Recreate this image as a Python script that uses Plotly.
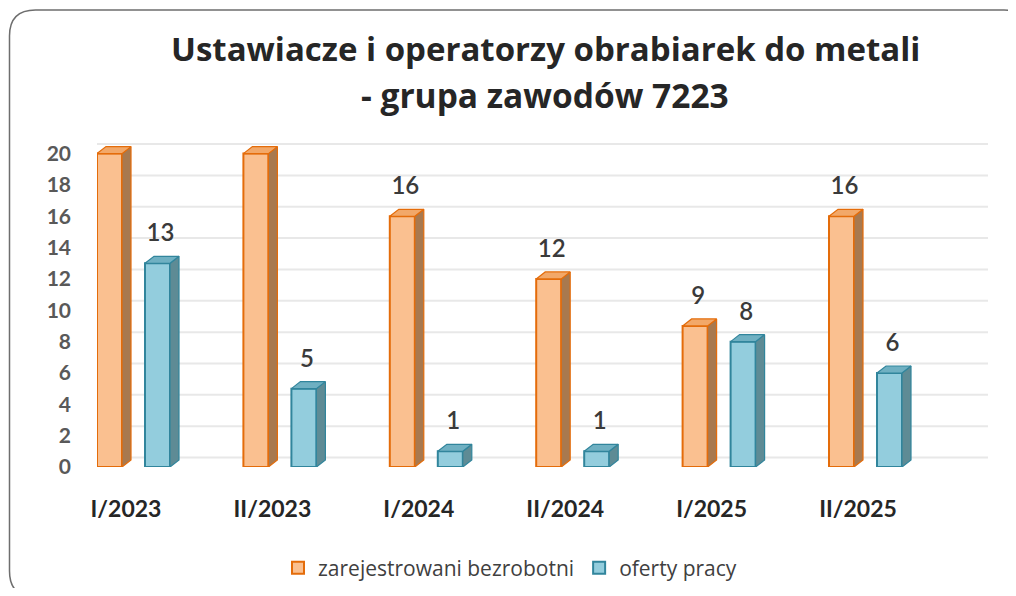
import plotly.graph_objects as go

# ---------------- data ----------------
categories = ["I/2023", "II/2023", "I/2024", "II/2024", "I/2025", "II/2025"]
unemployed = [20, 20, 16, 12, 9, 16]
offers = [13, 5, 1, 1, 8, 6]
series_names = ["zarejestrowani bezrobotni", "oferty pracy"]
y_ticks = list(range(0, 21, 2))
title_line1 = "Ustawiacze i operatorzy obrabiarek do metali"
title_line2 = "- grupa zawodów 7223"

# ---------------- geometry (pixels, in page coordinates) ----------------
OX, OY = 8, 8                           # default page body margin
W, H = 1016 - 2 * OX, 596 - 2 * OY      # figure size that fits without scrollbars
PL, PR, PT, PB = 97, 988, 135, 467      # plot area edges in page px
CAT_PX = 146.4                          # px per category
CAT0_PX = 126                           # px of first category centre (tick label)
UNIT_PX = 15.67                         # px per value unit

x0 = (PL - CAT0_PX) / CAT_PX
x1 = (PR - CAT0_PX) / CAT_PX
ytop = (PB - PT) / UNIT_PX

bar_w = 25 / CAT_PX
offsets = [(97 - CAT0_PX) / CAT_PX, (145 - CAT0_PX) / CAT_PX]
dx = 9 / CAT_PX
dy = 7 / UNIT_PX
grid_shift = 9.5 / UNIT_PX
label_dy = 28 / UNIT_PX
label_dx = 3 / CAT_PX


def px2paper(xp, yp):
    return (xp - PL) / (PR - PL), (PB - yp) / (PB - PT)


FONT = "Lato"
TFONT = "Open Sans"
styles = [
    dict(front="#FAC090", line="#E46C0A", top="#F2A869", side="#A8794F"),
    dict(front="#93CDDD", line="#31859C", top="#6FB0C2", side="#5E8B95"),
]

fig = go.Figure()
xs = list(range(len(categories)))
all_series = [unemployed, offers]

for k, (vals, name) in enumerate(zip(all_series, series_names)):
    st = styles[k]
    fig.add_trace(go.Bar(
        x=xs, y=vals, name=name, width=bar_w, offset=offsets[k],
        marker=dict(color=st["front"], line=dict(color=st["line"], width=2)),
        hoverinfo="y",
    ))

for k, vals in enumerate(all_series):
    st = styles[k]
    sx, sy, tx, ty = [], [], [], []
    for i, v in zip(xs, vals):
        l = i + offsets[k]
        r = l + bar_w
        sx += [r, r + dx, r + dx, r, r, None]
        sy += [0, dy, v + dy, v, 0, None]
        tx += [l, l + dx, r + dx, r, l, None]
        ty += [v, v + dy, v + dy, v, v, None]
    fig.add_trace(go.Scatter(x=sx, y=sy, mode="lines", fill="toself",
                             fillcolor=st["side"], line=dict(color=st["line"], width=1.2),
                             showlegend=False, hoverinfo="skip"))
    fig.add_trace(go.Scatter(x=tx, y=ty, mode="lines", fill="toself",
                             fillcolor=st["top"], line=dict(color=st["line"], width=1.2),
                             showlegend=False, hoverinfo="skip"))
    fig.add_trace(go.Scatter(
        x=[i + offsets[k] + bar_w / 2 + label_dx for i in xs],
        y=[v + label_dy for v in vals],
        mode="text", text=[str(v) for v in vals], textposition="middle center",
        textfont=dict(family=FONT, size=24, color="#3A3A3A", weight=600),
        showlegend=False, hoverinfo="skip", cliponaxis=False,
    ))

shapes = []
for v in y_ticks:
    shapes.append(dict(type="line", xref="paper", yref="y", x0=0, x1=1,
                       y0=v + grid_shift, y1=v + grid_shift,
                       line=dict(color="#E8E8E8", width=2), layer="below"))

# rounded border (right and bottom edges fall just outside the picture)
bl, bt, br, bb, rad = 9.5, 10, 1030, 597, 26
pts = {
    "a": px2paper(bl + rad, bt), "b": px2paper(br - rad, bt), "c": px2paper(br, bt),
    "d": px2paper(br, bt + rad), "e": px2paper(br, bb - rad), "f": px2paper(br, bb),
    "g": px2paper(br - rad, bb), "h": px2paper(bl + rad, bb), "i": px2paper(bl, bb),
    "j": px2paper(bl, bb - rad), "k": px2paper(bl, bt + rad), "m": px2paper(bl, bt),
}
f = lambda p: f"{p[0]:.5f},{p[1]:.5f}"
path = (f"M {f(pts['a'])} L {f(pts['b'])} Q {f(pts['c'])} {f(pts['d'])} "
        f"L {f(pts['e'])} Q {f(pts['f'])} {f(pts['g'])} L {f(pts['h'])} "
        f"Q {f(pts['i'])} {f(pts['j'])} L {f(pts['k'])} Q {f(pts['m'])} {f(pts['a'])} Z")
shapes.append(dict(type="path", xref="paper", yref="paper", path=path,
                   line=dict(color="#6E6E6E", width=1.5), fillcolor="rgba(0,0,0,0)", layer="above"))

tx1, ty1 = px2paper(545, 48)
tx2, ty2 = px2paper(545, 95)
annotations = [
    dict(text=title_line1, x=tx1, y=ty1, xref="paper", yref="paper", showarrow=False,
         xanchor="center", yanchor="middle",
         font=dict(family=TFONT, size=33, color="#262626", weight="bold")),
    dict(text=title_line2, x=tx2, y=ty2, xref="paper", yref="paper", showarrow=False,
         xanchor="center", yanchor="middle",
         font=dict(family=TFONT, size=33.5, color="#262626", weight="bold")),
]

# legend placed in container coordinates so it does not push the plot margins
leg_x = (510 - OX) / W
leg_y = 1 - (568 - OY) / H
fig.update_layout(
    width=W, height=H,
    margin=dict(l=PL - OX, r=W - (PR - OX), t=PT - OY, b=H - (PB - OY), pad=0),
    paper_bgcolor="white", plot_bgcolor="white",
    barmode="overlay",
    shapes=shapes, annotations=annotations,
    showlegend=True,
    legend=dict(orientation="h", xref="container", yref="container",
                x=leg_x, y=leg_y, xanchor="center", yanchor="middle",
                font=dict(family=TFONT, size=21, color="#404040"), traceorder="normal"),
    xaxis=dict(range=[x0, x1], tickvals=xs, ticktext=categories, showgrid=False,
               zeroline=False, showline=False, ticks="", ticklabelstandoff=26,
               tickfont=dict(family=FONT, size=23, color="#262626", weight="bold"),
               fixedrange=True, automargin=False),
    yaxis=dict(range=[0, ytop], tickvals=y_ticks, showgrid=False, zeroline=False,
               showline=False, ticks="", ticklabelstandoff=25,
               tickfont=dict(family=FONT, size=21, color="#595959", weight="bold"),
               fixedrange=True, automargin=False),
)

fig.write_html("out.html")
